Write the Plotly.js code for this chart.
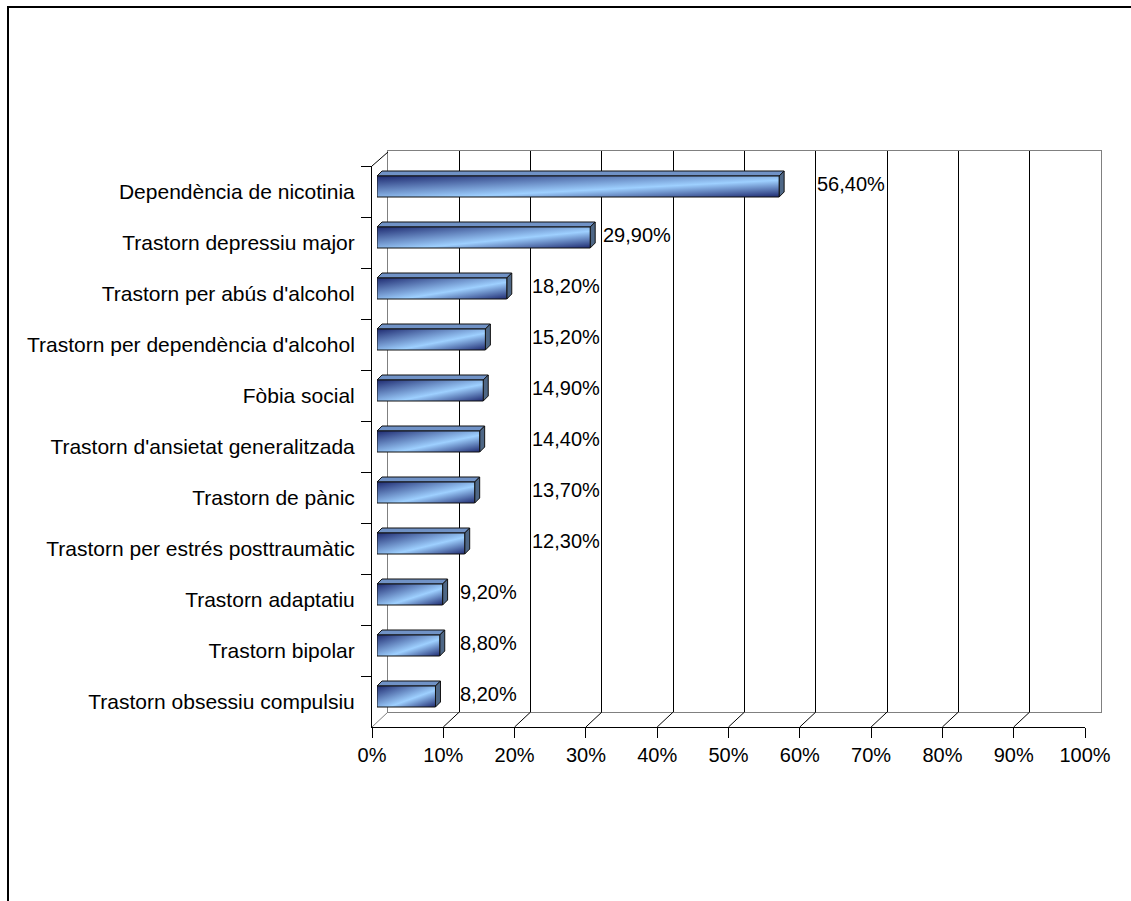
<!DOCTYPE html>
<html>
<head>
<meta charset="utf-8">
<script src="https://cdn.plot.ly/plotly-3.0.1.min.js"></script>
<style>
  html, body { margin: 0; padding: 0; background: #fff; overflow: hidden; }
  #chart { width: 1131px; height: 901px; }
</style>
</head>
<body>
<div id="chart"></div>
<script>
// Prevalença de trastorns (percentatge)
const categories = [
  "Dependència de nicotinia",
  "Trastorn depressiu major",
  "Trastorn per abús d'alcohol",
  "Trastorn per dependència d'alcohol",
  "Fòbia social",
  "Trastorn d'ansietat generalitzada",
  "Trastorn de pànic",
  "Trastorn per estrés posttraumàtic",
  "Trastorn adaptatiu",
  "Trastorn bipolar",
  "Trastorn obsessiu compulsiu"
];
const prevalence = [56.4, 29.9, 18.2, 15.2, 14.9, 14.4, 13.7, 12.3, 9.2, 8.8, 8.2];
const xTickVals = [0, 10, 20, 30, 40, 50, 60, 70, 80, 90, 100];
const xTickLabels = ["0%", "10%", "20%", "30%", "40%", "50%", "60%", "70%", "80%", "90%", "100%"];

// ---- page geometry (pixels) ----
const W = 1131, H = 901;
const FONT = "Liberation Sans, Arial, Helvetica, sans-serif";
const front = { x0: 372, x1: 1085, yTop: 166, yBot: 727 };   // front plane of the box
const depth = { dx: 16, dy: 15 };                             // offset to the back wall
const barShift = { dx: 5, dy: 5 };                            // bars sit slightly inside the box
const barDepth = { dx: 5, dy: 5 };                            // thickness of each bar
const barHeightPx = 21;

const n = categories.length;
const pxPerPct = (front.x1 - front.x0) / 100;
const pxPerCat = (front.yBot - front.yTop) / n;
const half = (barHeightPx / 2) / pxPerCat;
const bdx = barDepth.dx / pxPerPct;
const bdy = barDepth.dy / pxPerCat;

const domX = (a, b) => [a / W, b / W];
const domY = (top, bot) => [1 - bot / H, 1 - top / H];

// front-face shading: dark navy -> light blue -> dark navy
const faceScale = [
  [0.0, "#1e2a70"],
  [0.6, "#9ed0ff"],
  [1.0, "#1e2a70"]
];

const traces = [];

// empty trace so the back-wall subplot exists
traces.push({ type: "scatter", x: [], y: [], xaxis: "x", yaxis: "y", hoverinfo: "skip", showlegend: false });

// category axis carrier on the front plane
traces.push({
  type: "scatter", x: prevalence, y: categories, xaxis: "x2", yaxis: "y2",
  mode: "markers", marker: { opacity: 0, size: 1 }, hoverinfo: "skip", showlegend: false
});

const sideFill = "#4e6786";
const topFill = "#7092c6";
const edge = "#111111";

prevalence.forEach((v, i) => {
  const yt = i - half, yb = i + half;

  // top face
  traces.push({
    type: "scatter", xaxis: "x3", yaxis: "y3", mode: "lines", fill: "toself",
    x: [0, v, v + bdx, bdx, 0], y: [yt, yt, yt - bdy, yt - bdy, yt],
    fillcolor: topFill, line: { color: edge, width: 1 }, hoverinfo: "skip", showlegend: false
  });
  // end face
  traces.push({
    type: "scatter", xaxis: "x3", yaxis: "y3", mode: "lines", fill: "toself",
    x: [v, v + bdx, v + bdx, v, v], y: [yt, yt - bdy, yb - bdy, yb, yt],
    fillcolor: sideFill, line: { color: edge, width: 1 }, hoverinfo: "skip", showlegend: false
  });
  // front face
  traces.push({
    type: "scatter", xaxis: "x3", yaxis: "y3", mode: "lines", fill: "toself",
    x: [0, v, v, 0, 0], y: [yt, yt, yb, yb, yt],
    line: { color: edge, width: 1 },
    fillgradient: { type: "vertical", start: yt, stop: yb, colorscale: faceScale },
    hoverinfo: "skip", showlegend: false
  });
});

// value labels
const annotations = prevalence.map((v, i) => ({
  xref: "x", yref: "y3",
  x: Math.ceil(v / 10) * 10, y: i,
  xanchor: "left", yanchor: "middle", xshift: -1, yshift: 3,
  text: v.toFixed(2).replace(".", ",") + "%",
  showarrow: false,
  font: { family: FONT, size: 20, color: "#000" }
}));

// floor / wall edges joining the front plane to the back wall
const shapes = [];
xTickVals.forEach((t) => {
  const isEdge = (t === xTickVals[0] || t === xTickVals[xTickVals.length - 1]);
  shapes.push({
    type: "line", xref: "x2", yref: "y2 domain",
    xsizemode: "pixel", ysizemode: "pixel", xanchor: t, yanchor: 0,
    x0: 0, y0: 0, x1: depth.dx, y1: depth.dy,
    line: { color: isEdge ? "#808080" : "#000000", width: 1 }
  });
});
shapes.push({
  type: "line", xref: "x2", yref: "y2 domain",
  xsizemode: "pixel", ysizemode: "pixel", xanchor: 0, yanchor: 1,
  x0: 0, y0: 0, x1: depth.dx, y1: depth.dy - 1,
  line: { color: "#000000", width: 1 }
});
// outer chart frame
shapes.push({
  type: "rect", xref: "paper", yref: "paper",
  x0: 8 / W, x1: 1.2, y0: -0.2, y1: 1 - 7 / H,
  line: { color: "#000000", width: 2 }, fillcolor: "rgba(0,0,0,0)"
});

const back = { x0: front.x0 + depth.dx, x1: front.x1 + depth.dx, yTop: front.yTop - depth.dy, yBot: front.yBot - depth.dy };

const layout = {
  width: W, height: H,
  margin: { l: 0, r: 0, t: 0, b: 0 },
  paper_bgcolor: "#ffffff",
  plot_bgcolor: "rgba(0,0,0,0)",
  showlegend: false,
  font: { family: FONT, size: 20, color: "#000" },
  // back wall
  xaxis: {
    domain: domX(back.x0, back.x1), range: [0, 100], anchor: "y",
    tickvals: xTickVals.slice(1, -1), showticklabels: false, ticks: "",
    showgrid: true, gridcolor: "#000000", gridwidth: 1, zeroline: false,
    showline: true, mirror: true, linecolor: "#808080", linewidth: 1, fixedrange: true
  },
  yaxis: {
    domain: domY(back.yTop, back.yBot), range: [0, 1], anchor: "x",
    showgrid: false, zeroline: false, showticklabels: false, ticks: "",
    showline: true, mirror: true, linecolor: "#808080", linewidth: 1, fixedrange: true
  },
  // front plane with the visible axes
  xaxis2: {
    domain: domX(front.x0, front.x1), range: [0, 100], anchor: "y2",
    tickmode: "array", tickvals: xTickVals, ticktext: xTickLabels,
    ticks: "outside", ticklen: 10, tickwidth: 1, tickcolor: "#000",
    showline: true, linecolor: "#000", linewidth: 1,
    showgrid: false, zeroline: false, fixedrange: true,
    tickfont: { family: FONT, size: 20, color: "#000" }
  },
  yaxis2: {
    domain: domY(front.yTop, front.yBot), anchor: "x2",
    type: "category", categoryorder: "array", categoryarray: categories,
    range: [n - 0.5, -0.5], tickson: "boundaries",
    ticks: "outside", ticklen: 10, tickwidth: 1, tickcolor: "#000",
    ticklabelstandoff: 12,
    showline: true, linecolor: "#000", linewidth: 1,
    showgrid: false, zeroline: false, fixedrange: true,
    tickfont: { family: FONT, size: 21, color: "#000" }
  },
  // plane of the bars
  xaxis3: {
    domain: domX(front.x0 + barShift.dx, front.x1 + barShift.dx), range: [0, 100],
    anchor: "y3", visible: false, fixedrange: true
  },
  yaxis3: {
    domain: domY(front.yTop - barShift.dy, front.yBot - barShift.dy), range: [n - 0.5, -0.5],
    anchor: "x3", visible: false, fixedrange: true
  },
  shapes: shapes,
  annotations: annotations
};

// Turn each front-face gradient into a corner-to-corner diagonal of its own box
function diagonalFaces(gd) {
  gd.querySelectorAll("path.js-fill").forEach((p) => {
    const fill = p.style.fill || p.getAttribute("fill") || "";
    const m = /#([^"')]+)["']?\)/.exec(fill);
    if (!m) return;
    const g = document.getElementById(m[1]);
    if (!g || g.tagName.toLowerCase() !== "lineargradient") return;
    g.setAttribute("gradientUnits", "objectBoundingBox");
    g.setAttribute("x1", "0");
    g.setAttribute("y1", "0");
    g.setAttribute("x2", "1");
    g.setAttribute("y2", "1");
  });
}

Plotly.newPlot("chart", traces, layout, { displayModeBar: false, staticPlot: true })
  .then(diagonalFaces);
</script>
</body>
</html>
